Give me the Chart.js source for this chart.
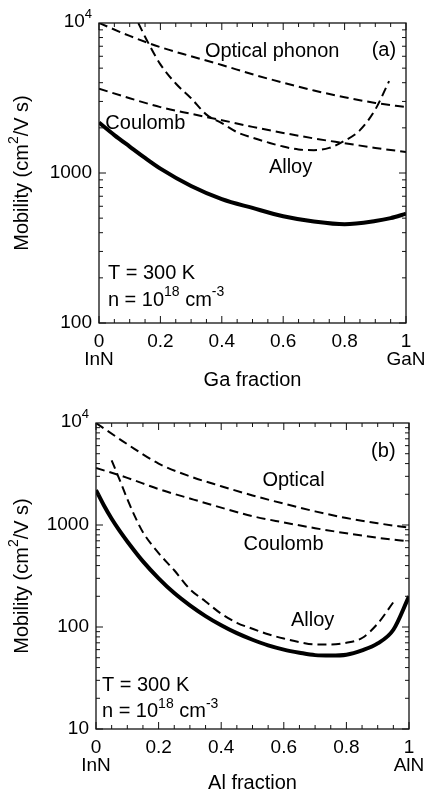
<!DOCTYPE html>
<html lang="en">
<head>
<meta charset="UTF-8">
<title>Mobility vs. alloy fraction</title>
<script src="https://cdn.jsdelivr.net/npm/chart.js"></script>
<style>
  body { margin: 0; background: #fff; }
  canvas { position: absolute; left: 0; }
</style>
</head>
<body>
<canvas id="chartA" width="427" height="400" style="top:0"></canvas>
<canvas id="chartB" width="427" height="399" style="top:400px"></canvas>
<script>
// ---- panel (a): InGaN, Ga fraction ----
const fracA = [0, 0.1, 0.2, 0.3, 0.4, 0.5, 0.6, 0.7, 0.8, 0.9, 1.0];
const opticalA = [10000, 8200, 6900, 6000, 5250, 4550, 4000, 3550, 3200, 2930, 2750];
const coulombA = [3650, 3150, 2750, 2480, 2250, 2030, 1850, 1700, 1580, 1470, 1380];
const totalFracA = [0, 0.05, 0.1, 0.15, 0.2, 0.3, 0.4, 0.5, 0.6, 0.7, 0.8, 0.9, 0.95, 1.0];
const totalA = [2170, 1790, 1500, 1260, 1070, 820, 670, 585, 515, 475, 455, 478, 500, 535];
const alloyFracA = [0.128, 0.15, 0.2, 0.25, 0.3, 0.35, 0.4, 0.45, 0.5, 0.55, 0.6, 0.65, 0.7, 0.75, 0.8, 0.85, 0.9, 0.945];
const alloyA = [10000, 8100, 5300, 3950, 3150, 2450, 2150, 1870, 1720, 1600, 1500, 1435, 1420, 1470, 1640, 1930, 2650, 4100];

// ---- panel (b): InAlN, Al fraction ----
const fracB = [0, 0.1, 0.2, 0.3, 0.4, 0.5, 0.6, 0.7, 0.8, 0.9, 1.0];
const opticalB = [10000, 6200, 4000, 3000, 2400, 1950, 1620, 1360, 1170, 1040, 940];
const coulombB = [3630, 2900, 2250, 1820, 1480, 1220, 1060, 930, 830, 750, 690];
const totalFracB = [0, 0.025, 0.05, 0.075, 0.1, 0.15, 0.2, 0.25, 0.3, 0.35, 0.4, 0.45, 0.5, 0.55, 0.6, 0.65, 0.7, 0.75, 0.8, 0.85, 0.9, 0.95, 1.0];
const totalB = [2200, 1560, 1150, 880, 690, 440, 300, 215, 163, 128, 104, 87, 75, 66, 60, 56, 53, 52.5, 53.5, 59, 69, 94, 200];
const alloyFracB = [0.05, 0.075, 0.1, 0.125, 0.15, 0.2, 0.25, 0.3, 0.35, 0.4, 0.45, 0.5, 0.55, 0.6, 0.65, 0.7, 0.75, 0.8, 0.85, 0.9, 0.95];
const alloyB = [4300, 2800, 1800, 1200, 850, 530, 360, 235, 178, 135, 110, 96, 85, 77, 71, 67.5, 67.5, 70, 78, 108, 175];

const yTicksA = [100, 1000, 10000];
const yTicksB = [10, 100, 1000, 10000];

const FONT = '"Liberation Sans", Arial, Helvetica, sans-serif';

function pts(xs, ys) {
    return xs.map((x, i) => ({x: x, y: ys[i]}));
}

// text with superscripts: parts = [[text, isSup], ...]
function drawRich(ctx, parts, x, y, align, size) {
    const main = size + 'px ' + FONT;
    const sup = Math.round(size * 0.68) + 'px ' + FONT;
    let w = 0;
    parts.forEach(p => { ctx.font = p[1] ? sup : main; w += ctx.measureText(p[0]).width; });
    let cx = align === 'center' ? x - w / 2 : (align === 'right' ? x - w : x);
    ctx.textAlign = 'left';
    ctx.textBaseline = 'middle';
    parts.forEach(p => {
        ctx.font = p[1] ? sup : main;
        ctx.fillText(p[0], cx, p[1] ? y - size * 0.4 : y);
        cx += ctx.measureText(p[0]).width;
    });
}

const framePlugin = {
    id: 'frame',
    afterDraw(chart, args, opts) {
        const ctx = chart.ctx;
        const a = chart.chartArea;
        const xs = chart.scales.x, ys = chart.scales.y;
        ctx.save();
        ctx.strokeStyle = '#111';
        ctx.fillStyle = '#000';
        ctx.lineWidth = 1.3;
        ctx.strokeRect(a.left, a.top, a.right - a.left, a.bottom - a.top);

        // inward ticks, y (log)
        ctx.lineWidth = 1;
        ctx.beginPath();
        for (let d = ys.min; d < ys.max; d *= 10) {
            for (let m = 1; m <= 9; m++) {
                const yy = ys.getPixelForValue(m * d);
                const len = m === 1 ? 7 : 4;
                ctx.moveTo(a.left, yy); ctx.lineTo(a.left + len, yy);
                ctx.moveTo(a.right, yy); ctx.lineTo(a.right - len, yy);
            }
        }
        // inward ticks, x
        for (let i = 0; i <= 20; i++) {
            const xx = xs.getPixelForValue(i * 0.05);
            const len = i % 4 === 0 ? 7 : 4;
            ctx.moveTo(xx, a.bottom); ctx.lineTo(xx, a.bottom - len);
            ctx.moveTo(xx, a.top); ctx.lineTo(xx, a.top + len);
        }
        ctx.stroke();

        // 10^4 tick label
        drawRich(ctx, [['10'], ['4', 1]], a.left - 7, ys.getPixelForValue(10000) - 1, 'right', 19);

        // y axis title
        ctx.save();
        ctx.translate(22, (a.top + a.bottom) / 2);
        ctx.rotate(-Math.PI / 2);
        drawRich(ctx, [['Mobility (cm'], ['2', 1], ['/V s)']], 0, 0, 'center', 20);
        ctx.restore();

        // notes inside the plot
        opts.notes.forEach(n => {
            drawRich(ctx, n.parts, xs.getPixelForValue(n.x), ys.getPixelForValue(n.y), n.align, 20);
        });
        ctx.restore();
    }
};

function solid(data) {
    return {data: data, borderColor: '#000', borderWidth: 4, pointRadius: 0, cubicInterpolationMode: 'monotone'};
}
function dashed(data) {
    return {data: data, borderColor: '#000', borderWidth: 2, borderDash: [9, 5], pointRadius: 0, cubicInterpolationMode: 'monotone'};
}

function makeChart(id, cfg) {
    const ctx = document.getElementById(id).getContext('2d');
    return new Chart(ctx, {
        type: 'line',
        data: {datasets: cfg.datasets},
        plugins: [framePlugin],
        options: {
            responsive: false,
            animation: false,
            layout: {padding: {top: 23, right: cfg.right, left: 0, bottom: 0}},
            plugins: {
                legend: {display: false},
                tooltip: {enabled: false},
                frame: {notes: cfg.notes}
            },
            scales: {
                x: {
                    type: 'linear', min: 0, max: 1,
                    grid: {display: false, drawTicks: false},
                    border: {display: false},
                    ticks: {
                        stepSize: 0.2, autoSkip: false, maxRotation: 0, padding: 10, color: '#000',
                        font: {family: FONT, size: 19, lineHeight: 0.95},
                        callback: v => {
                            const r = Math.round(v * 10) / 10;
                            if (r === 0) return ['0', cfg.left];
                            if (r === 1) return ['1', cfg.rightName];
                            return String(r);
                        }
                    },
                    title: {
                        display: true, text: cfg.xTitle, color: '#000',
                        font: {family: FONT, size: 20, lineHeight: 1},
                        padding: {top: 0, bottom: cfg.titlePad}
                    },
                    afterFit: s => { s.height = cfg.xHeight; s.paddingLeft = 0; s.paddingRight = 0; }
                },
                y: {
                    type: 'logarithmic', min: cfg.yTicks[0], max: 10000,
                    grid: {display: false, drawTicks: false},
                    border: {display: false},
                    afterBuildTicks: s => { s.ticks = cfg.yTicks.map(v => ({value: v})); },
                    ticks: {
                        padding: 7, color: '#000',
                        font: {family: FONT, size: 19},
                        callback: v => v >= 10000 ? '' : String(v)
                    },
                    afterFit: s => { s.width = cfg.yWidth; s.paddingTop = 0; s.paddingBottom = 0; }
                }
            }
        }
    });
}

makeChart('chartA', {
    datasets: [
        solid(pts(totalFracA, totalA)),
        dashed(pts(fracA, opticalA)),
        dashed(pts(fracA, coulombA)),
        dashed(pts(alloyFracA, alloyA))
    ],
    yTicks: yTicksA, yWidth: 99, right: 21, xHeight: 77, titlePad: 10,
    xTitle: 'Ga fraction', left: 'InN', rightName: 'GaN',
    notes: [
        {parts: [['Optical phonon']], x: 0.564, y: 6410, align: 'center'},
        {parts: [['(a)']], x: 0.928, y: 6600, align: 'center'},
        {parts: [['Coulomb']], x: 0.151, y: 2150, align: 'center'},
        {parts: [['Alloy']], x: 0.624, y: 1096, align: 'center'},
        {parts: [['T = 300 K']], x: 0.029, y: 215, align: 'left'},
        {parts: [['n = 10'], ['18', 1], [' cm'], ['-3', 1]], x: 0.029, y: 142, align: 'left'}
    ]
});

makeChart('chartB', {
    datasets: [
        solid(pts(totalFracB, totalB)),
        dashed(pts(fracB, opticalB)),
        dashed(pts(fracB, coulombB)),
        dashed(pts(alloyFracB, alloyB))
    ],
    yTicks: yTicksB, yWidth: 96, right: 18, xHeight: 70, titlePad: 6,
    xTitle: 'Al fraction', left: 'InN', rightName: 'AlN',
    notes: [
        {parts: [['(b)']], x: 0.918, y: 5200, align: 'center'},
        {parts: [['Optical']], x: 0.631, y: 2760, align: 'center'},
        {parts: [['Coulomb']], x: 0.599, y: 637, align: 'center'},
        {parts: [['Alloy']], x: 0.692, y: 117, align: 'center'},
        {parts: [['T = 300 K']], x: 0.019, y: 27, align: 'left'},
        {parts: [['n = 10'], ['18', 1], [' cm'], ['-3', 1]], x: 0.019, y: 14.7, align: 'left'}
    ]
});
</script>
</body>
</html>
